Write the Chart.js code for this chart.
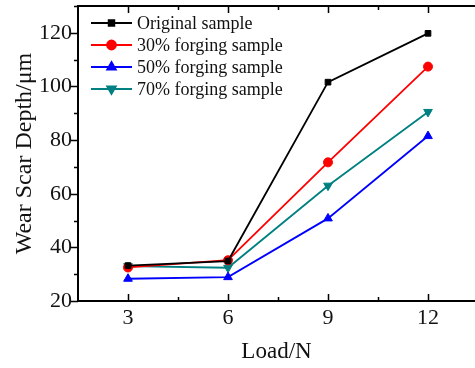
<!DOCTYPE html>
<html>
<head>
<meta charset="utf-8">
<script src="https://cdn.jsdelivr.net/npm/chart.js@4/dist/chart.umd.min.js"></script>
<style>
  html, body { margin: 0; padding: 0; background: #fff; overflow: hidden; }
  #wrap { width: 475px; height: 368px; position: relative; }
</style>
</head>
<body>
<div id="wrap"><canvas id="chart"></canvas></div>
<script>
// Wear scar depth vs load for the four sample conditions.
const LOADS = [3, 6, 9, 12];
const ORIGINAL = [33.2, 34.9, 101.6, 119.8];
const FORGING_30 = [32.5, 35.2, 71.7, 107.4];
const FORGING_50 = [28.3, 28.9, 50.8, 81.5];
const FORGING_70 = [33.0, 32.4, 63.0, 90.5];

const X_TICKS = [3, 6, 9, 12];
const X_MINOR = [4.5, 7.5, 10.5];
const Y_TICKS = [20, 40, 60, 80, 100, 120];
const Y_MINOR = [30, 50, 70, 90, 110, 130];

const SERIF = "'Liberation Serif', 'Times New Roman', serif";

const series = [
  { label: "Original sample",      data: ORIGINAL,   color: "#000000", style: "rect",     radius: 4,   rot: 0 },
  { label: "30% forging sample",   data: FORGING_30, color: "#ff0000", style: "circle",   radius: 4.5, rot: 0 },
  { label: "50% forging sample",   data: FORGING_50, color: "#0000ff", style: "triangle", radius: 5,   rot: 0 },
  { label: "70% forging sample",   data: FORGING_70, color: "#008080", style: "triangle", radius: 5,   rot: 180 },
];

// Tick marks: x ticks point inward (also on the top frame), y ticks point outward.
const tickMarks = {
  id: "tickMarks",
  afterDraw(chart) {
    const { ctx, chartArea: a, scales: { x, y } } = chart;
    ctx.save();
    ctx.strokeStyle = "#000";
    ctx.lineWidth = 1.5;
    ctx.beginPath();
    const xt = (vals, len) => vals.forEach(v => {
      const px = Math.round(x.getPixelForValue(v)) + 0.5;
      ctx.moveTo(px, a.bottom); ctx.lineTo(px, a.bottom - len);
      ctx.moveTo(px, a.top); ctx.lineTo(px, a.top + len);
    });
    const yt = (vals, len) => vals.forEach(v => {
      const py = Math.round(y.getPixelForValue(v)) + 0.5;
      ctx.moveTo(a.left, py); ctx.lineTo(a.left - len, py);
    });
    xt(X_TICKS, 7); xt(X_MINOR, 4);
    yt(Y_TICKS, 7); yt(Y_MINOR, 4);
    ctx.stroke();
    // top frame line
    ctx.lineWidth = 2;
    ctx.beginPath();
    ctx.moveTo(a.left, a.top); ctx.lineTo(a.right, a.top);
    ctx.stroke();
    ctx.restore();
  }
};

// Legend with a short line through each marker, like the original plot.
const lineLegend = {
  id: "lineLegend",
  afterDraw(chart) {
    const ctx = chart.ctx;
    ctx.save();
    ctx.font = "18px " + SERIF;
    ctx.textBaseline = "middle";
    chart.data.datasets.forEach((ds, i) => {
      const yy = 23 + i * 22;
      ctx.strokeStyle = ds.borderColor;
      ctx.lineWidth = 1.8;
      ctx.beginPath();
      ctx.moveTo(91, yy); ctx.lineTo(132, yy);
      ctx.stroke();
      ctx.fillStyle = ds.borderColor;
      Chart.helpers.drawPoint(ctx, {
        pointStyle: ds.pointStyle, radius: ds.pointRadius,
        rotation: ds.pointRotation, borderWidth: 1
      }, 111.5, yy);
      ctx.fillStyle = "#111";
      ctx.fillText(ds.label, 137, yy + 1);
    });
    ctx.restore();
  }
};

// Keep the plot frame where the original has it: no extra room for label overhang.
const noOverhang = s => {
  s.paddingTop = 0; s.paddingBottom = 0; s.paddingLeft = 0; s.paddingRight = 0;
};

new Chart(document.getElementById("chart"), {
  type: "line",
  data: {
    datasets: series.map(s => ({
      label: s.label,
      data: LOADS.map((l, i) => ({ x: l, y: s.data[i] })),
      borderColor: s.color,
      backgroundColor: s.color,
      borderWidth: 1.8,
      pointStyle: s.style,
      pointRadius: s.radius,
      pointRotation: s.rot,
      pointBorderWidth: 1,
      tension: 0,
    })),
  },
  options: {
    responsive: true,
    maintainAspectRatio: false,
    animation: false,
    layout: { autoPadding: false, padding: { top: 6, right: 0, left: 0, bottom: 0 } },
    plugins: { legend: { display: false }, tooltip: { enabled: false } },
    scales: {
      x: {
        type: "linear",
        min: 1.5,
        max: 13.41,
        afterBuildTicks: s => { s.ticks = X_TICKS.map(v => ({ value: v })); },
        afterFit: s => { s.height = 67; noOverhang(s); },
        grid: { display: false, drawTicks: false },
        border: { display: true, color: "#000", width: 2 },
        ticks: { color: "#111", font: { family: SERIF, size: 22 }, padding: 4, maxRotation: 0 },
        title: { display: true, text: "Load/N", color: "#111", font: { family: SERIF, size: 23 }, padding: { top: 4, bottom: 2 } },
      },
      y: {
        min: 20,
        max: 130,
        afterBuildTicks: s => { s.ticks = Y_TICKS.map(v => ({ value: v })); },
        afterFit: s => { s.width = 78; noOverhang(s); },
        grid: { display: false, drawTicks: false },
        border: { display: true, color: "#000", width: 2 },
        ticks: { color: "#111", font: { family: SERIF, size: 22 }, padding: 6 },
        title: { display: true, text: "Wear Scar Depth/μm", color: "#111", font: { family: SERIF, size: 24 }, padding: { top: 10, bottom: 4 } },
      },
    },
  },
  plugins: [tickMarks, lineLegend],
});
</script>
</body>
</html>
